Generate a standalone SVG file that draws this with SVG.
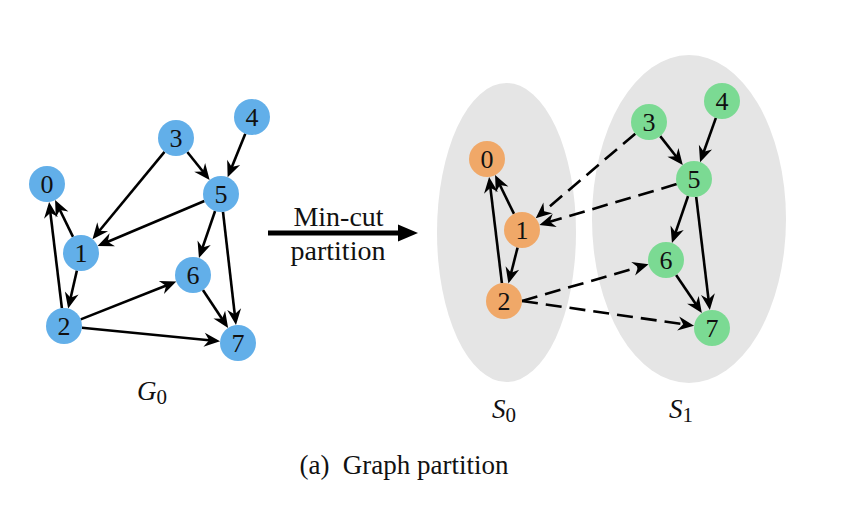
<svg xmlns="http://www.w3.org/2000/svg" width="846" height="521" viewBox="0 0 846 521">
<style>
.bg{fill:#ffffff}
.blue{fill:#62AFE9}
.orange{fill:#F0A868}
.green{fill:#7BDA93}
.set{fill:#E5E5E5}
.lbl{font-family:"Liberation Serif","DejaVu Serif",serif;font-size:26px;fill:#111;text-anchor:middle}
.e{stroke:#000;stroke-width:2.6;fill:none;marker-end:url(#ah)}
.d{stroke-dasharray:16 8}
.txt{font-family:"Liberation Serif","DejaVu Serif",serif;fill:#111}
</style>
<defs>
<marker id="ah" markerUnits="userSpaceOnUse" markerWidth="20" markerHeight="20" refX="10" refY="7" orient="auto" overflow="visible">
<path d="M16,7 L0,0 L5,7 L0,14 Z" fill="#000"/>
</marker>
</defs>
<rect class="bg" x="0" y="0" width="846" height="521"/>
<g id="set-S0"><ellipse class="set" cx="506.5" cy="232.5" rx="69.5" ry="149.5"/></g>
<g id="set-S1"><ellipse class="set" cx="689" cy="219" rx="97" ry="164"/></g>
<g id="connectors">
<line class="e" x1="164.5" y1="151.9" x2="96.3" y2="234.5"/>
<line class="e" x1="187.3" y1="152.0" x2="205.9" y2="175.3"/>
<line class="e" x1="245.3" y1="133.7" x2="229.9" y2="171.7"/>
<line class="e" x1="204.4" y1="201.0" x2="103.1" y2="243.7"/>
<line class="e" x1="215.1" y1="211.0" x2="200.9" y2="252.3"/>
<line class="e" x1="223.0" y1="211.9" x2="235.3" y2="319.1"/>
<line class="e" x1="73.0" y1="236.9" x2="57.7" y2="205.5"/>
<line class="e" x1="76.9" y1="270.5" x2="69.5" y2="302.7"/>
<line class="e" x1="61.9" y1="308.1" x2="49.8" y2="207.9"/>
<line class="e" x1="80.7" y1="319.4" x2="170.7" y2="283.8"/>
<line class="e" x1="81.9" y1="327.7" x2="214.1" y2="340.7"/>
<line class="e" x1="202.9" y1="290.0" x2="224.8" y2="323.0"/>
<line class="e d" x1="635.3" y1="133.7" x2="540.3" y2="214.4"/>
<line class="e" x1="660.2" y1="136.1" x2="679.1" y2="160.2"/>
<line class="e" x1="715.9" y1="117.9" x2="702.1" y2="156.5"/>
<line class="e d" x1="676.7" y1="184.1" x2="545.1" y2="223.2"/>
<line class="e" x1="688.1" y1="196.0" x2="673.9" y2="237.3"/>
<line class="e" x1="696.2" y1="196.9" x2="709.1" y2="304.1"/>
<line class="e" x1="514.0" y1="213.9" x2="497.7" y2="180.5"/>
<line class="e" x1="517.6" y1="247.5" x2="509.9" y2="277.7"/>
<line class="e" x1="501.9" y1="283.1" x2="489.8" y2="182.9"/>
<line class="e d" x1="522" y1="301" x2="642.8" y2="265.9"/>
<line class="e d" x1="522" y1="301" x2="688.1" y2="324.9"/>
<line class="e" x1="676.1" y1="274.9" x2="698.5" y2="308.1"/>
<line x1="268" y1="233" x2="402" y2="233" stroke="#000" stroke-width="5"/>
<polygon points="398,224.5 418,233 398,241.5" fill="#000"/>
</g>
<g id="g0-n0"><circle class="blue" cx="47" cy="184" r="18"/><text class="lbl" x="47" y="193">0</text></g>
<g id="g0-n1"><circle class="blue" cx="81" cy="253" r="18"/><text class="lbl" x="81" y="262">1</text></g>
<g id="g0-n2"><circle class="blue" cx="64" cy="326" r="18"/><text class="lbl" x="64" y="335">2</text></g>
<g id="g0-n3"><circle class="blue" cx="176" cy="138" r="18"/><text class="lbl" x="176" y="147">3</text></g>
<g id="g0-n4"><circle class="blue" cx="252" cy="117" r="18"/><text class="lbl" x="252" y="126">4</text></g>
<g id="g0-n5"><circle class="blue" cx="221" cy="194" r="18"/><text class="lbl" x="221" y="203">5</text></g>
<g id="g0-n6"><circle class="blue" cx="193" cy="275" r="18"/><text class="lbl" x="193" y="284">6</text></g>
<g id="g0-n7"><circle class="blue" cx="238" cy="343" r="18"/><text class="lbl" x="238" y="352">7</text></g>
<g id="p-n0"><circle class="orange" cx="487" cy="159" r="18"/><text class="lbl" x="487" y="168">0</text></g>
<g id="p-n1"><circle class="orange" cx="522" cy="230" r="18"/><text class="lbl" x="522" y="239">1</text></g>
<g id="p-n2"><circle class="orange" cx="504" cy="301" r="18"/><text class="lbl" x="504" y="310">2</text></g>
<g id="p-n3"><circle class="green" cx="649" cy="122" r="18"/><text class="lbl" x="649" y="131">3</text></g>
<g id="p-n4"><circle class="green" cx="722" cy="101" r="18"/><text class="lbl" x="722" y="110">4</text></g>
<g id="p-n5"><circle class="green" cx="694" cy="179" r="18"/><text class="lbl" x="694" y="188">5</text></g>
<g id="p-n6"><circle class="green" cx="666" cy="260" r="18"/><text class="lbl" x="666" y="269">6</text></g>
<g id="p-n7"><circle class="green" cx="712" cy="328" r="18"/><text class="lbl" x="712" y="337">7</text></g>
<g id="labels">
<text class="txt" x="338.5" y="226" font-size="28" text-anchor="middle">Min-cut</text>
<text class="txt" x="338" y="260" font-size="28" text-anchor="middle">partition</text>
<text class="txt" x="137" y="400" font-size="27"><tspan font-style="italic">G</tspan><tspan font-size="21" dy="4">0</tspan></text>
<text class="txt" x="492" y="418" font-size="27"><tspan font-style="italic">S</tspan><tspan font-size="21" dy="4">0</tspan></text>
<text class="txt" x="669" y="418" font-size="27"><tspan font-style="italic">S</tspan><tspan font-size="21" dy="4">1</tspan></text>
<text class="txt" x="404" y="474" font-size="27" text-anchor="middle" xml:space="preserve">(a)  Graph partition</text>
</g>
</svg>
